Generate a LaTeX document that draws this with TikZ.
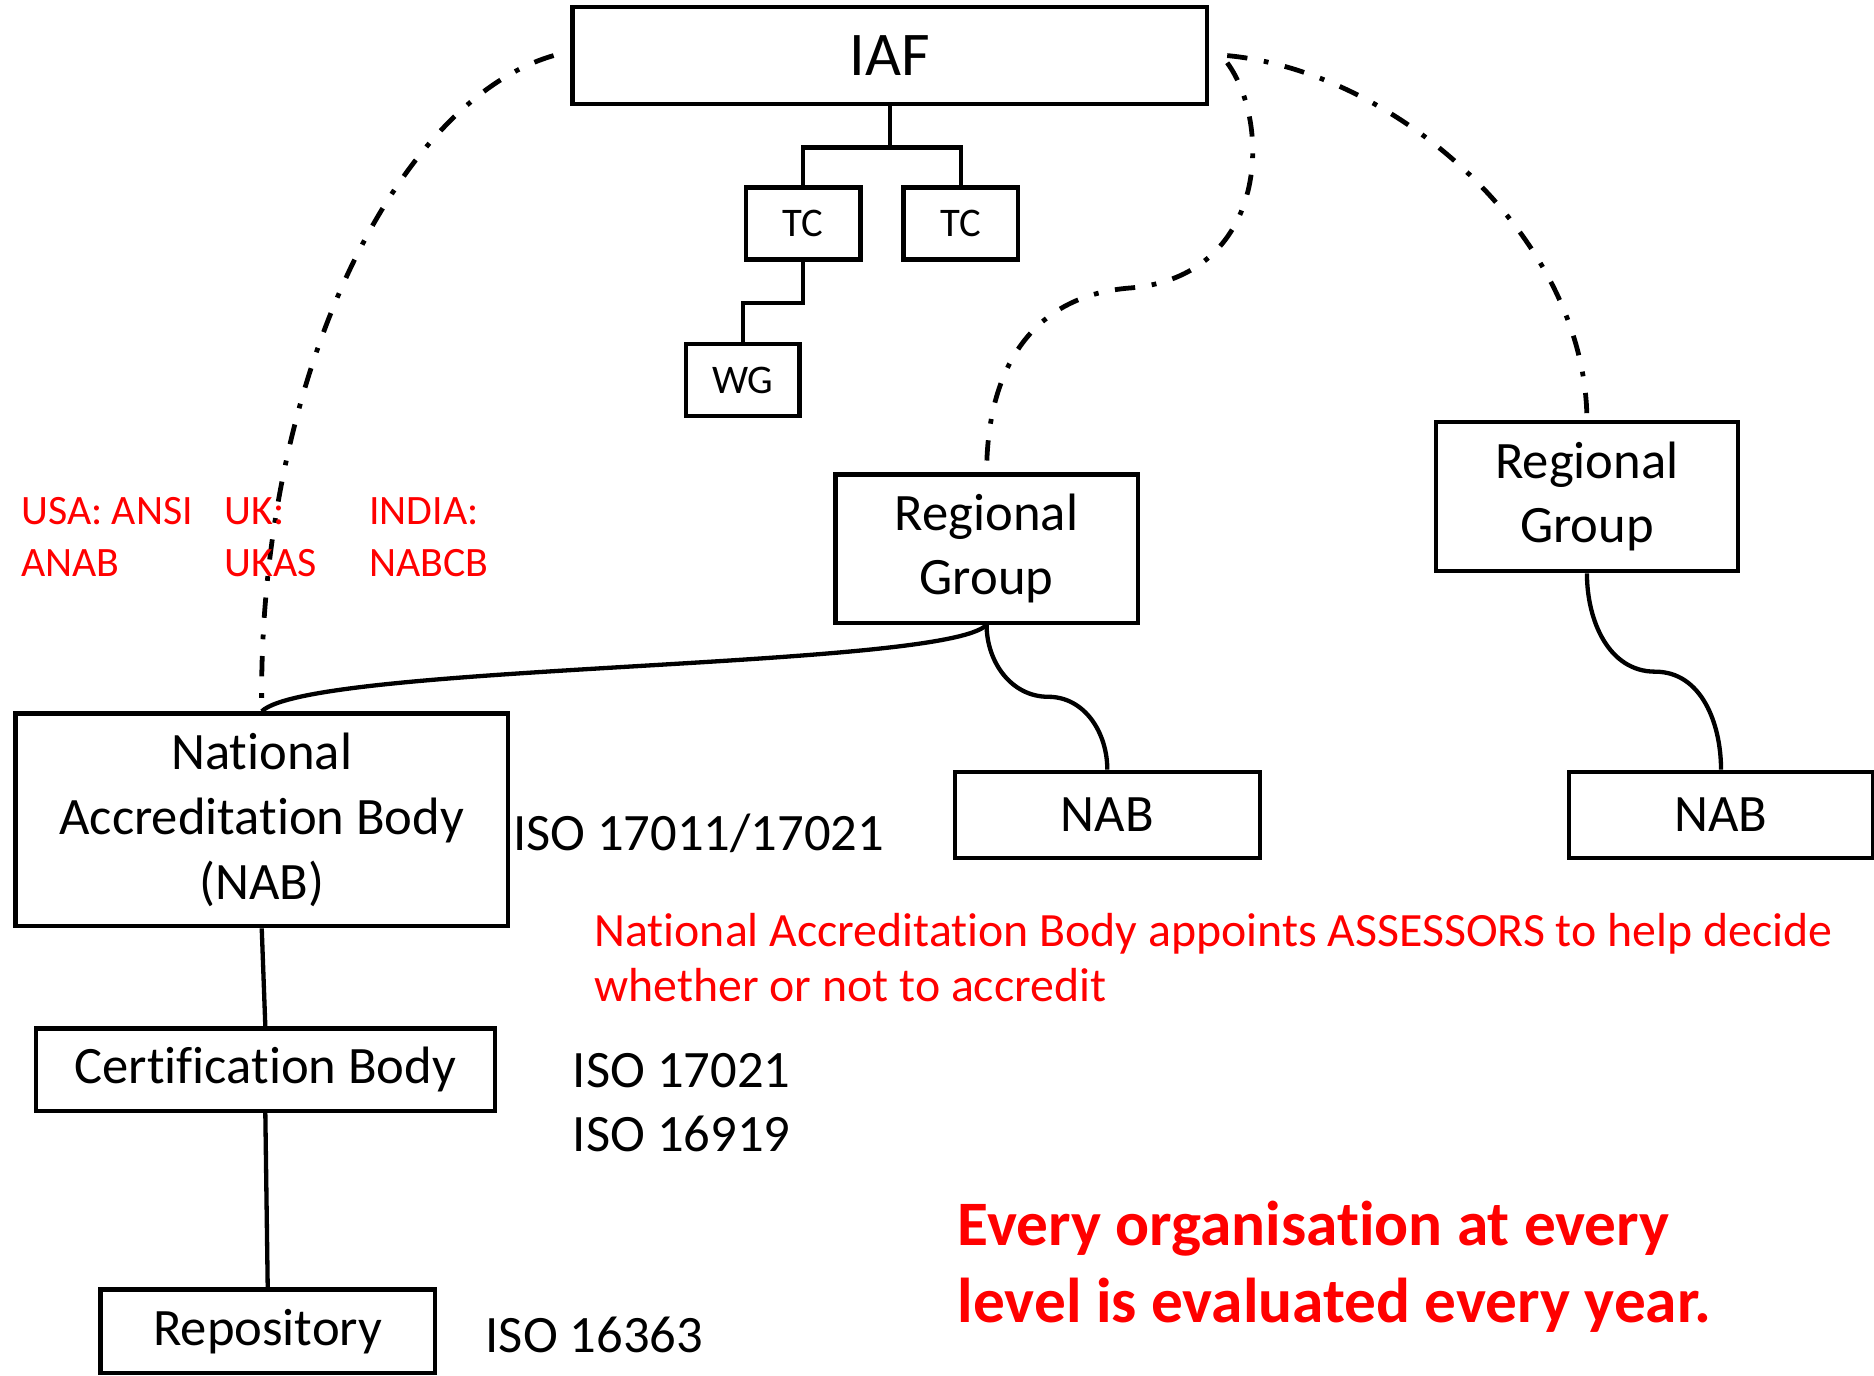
\documentclass[tikz,border=0pt]{standalone}
\usepackage{fontspec}
\setmainfont{Carlito}[Ligatures=CommonOff]

\tikzset{
  box/.style={draw, line width=1.8pt, inner sep=0pt, align=center, font=\fontsize{22}{27}\selectfont},
  dashdot/.style={line width=2pt, dash pattern=on 8.5pt off 7pt on 2pt off 7pt},
  link/.style={line width=1.8pt},
  txt/.style={anchor=base west, inner sep=0pt, align=left, font=\fontsize{22}{27}\selectfont},
  rednote/.style={txt, text=red, font=\fontsize{17.5}{21.5}\selectfont}
}

\begin{document}
\begin{tikzpicture}[x=0.5pt,y=-0.5pt]
  \useasboundingbox (0,0) rectangle (1568,1151);
  % top of the tree
  \node[box, minimum width=265.5pt, minimum height=40.5pt, font=\fontsize{26}{31}\selectfont] (iaf) at (744.5,46.5) {IAF};
  \node[box, minimum width=48pt, minimum height=30pt, font=\fontsize{17}{20}\selectfont] (tc1) at (672,187) {TC};
  \node[box, minimum width=48pt, minimum height=30pt, font=\fontsize{17}{20}\selectfont] (tc2) at (804,187) {TC};
  \node[box, minimum width=47.5pt, minimum height=30pt, font=\fontsize{17}{20}\selectfont] (wg) at (621.5,318) {WG};
  % regional groups and national bodies
  \node[box, minimum width=126.5pt, minimum height=62pt] (rg1) at (825.5,459) {Regional\\Group};
  \node[box, minimum width=126.5pt, minimum height=62.5pt] (rg2) at (1327.8,415.5) {Regional\\Group};
  \node[box, minimum width=206pt, minimum height=89pt] (nab) at (219,686) {National\\Accreditation Body\\(NAB)};
  \node[box, minimum width=127.5pt, minimum height=36pt] (nab2) at (926.5,681.7) {NAB};
  \node[box, minimum width=127pt, minimum height=36pt] (nab3) at (1440,681.7) {NAB};
  \node[box, minimum width=192pt, minimum height=34.5pt] (cb) at (222,895) {Certification Body};
  \node[box, minimum width=140pt, minimum height=35pt] (repo) at (224,1114) {Repository};

  % tree lines
  \draw[link] (iaf.south) -- ++(0,34.5) -| (tc1.north);
  \draw[link] (iaf.south) -- ++(0,34.5) -| (tc2.north);
  \draw[link] (tc1.south) -- ++(0,35) -| (wg.north);

  % membership links
  \coordinate (iafL) at ([xshift=-7pt]iaf.west);
  \coordinate (iafR) at ([xshift=7.5pt]iaf.east);
  \draw[dashdot] (iafL) .. controls (330,85) and (215,320) .. (nab.north);
  \draw[dashdot] ([yshift=-3pt]iafR) .. controls (1065,105) and (1060,232) .. (945,241)
    .. controls (870,247) and (826,300) .. (rg1.north);
  \draw[dashdot] (iafR) .. controls (1170,60) and (1327,200) .. (rg2.north);
  \draw[link] (rg1.south) .. controls (790,560) and (260,555) .. (nab.north);
  \draw[link] (rg1.south) to[out=-90,in=180] (877,583) to[out=0,in=90] (nab2.north);
  \draw[link] (rg2.south) to[out=-90,in=180] (1385,562) to[out=0,in=90] (nab3.north);
  \draw[link] (nab.south) -- (cb.north);
  \draw[link] (cb.south) -- (repo.north);

  % standards and notes
  \node[txt] (iso1) at (429,712) {ISO 17011/17021};
  \node[txt] (iso2) at (479,963.5) {ISO 17021\\ISO 16919};
  \node[txt] (iso3) at (406,1132) {ISO 16363};
  \node[txt, text=red, font=\fontsize{20}{23}\selectfont] (assess) at (497,838) {National Accreditation Body appoints ASSESSORS to help decide\\whether or not to accredit};
  \node[txt, text=red, font=\bfseries\fontsize{26.5}{32}\selectfont] (every) at (801,1106.5) {Every organisation at every\\level is evaluated every year.};
  \node[rednote] (usa) at (17.5,482) {USA: ANSI\\ANAB};
  \node[rednote] (uk) at (187.7,482) {UK:\\UKAS};
  \node[rednote] (india) at (308.6,482) {INDIA:\\NABCB};
\end{tikzpicture}
\end{document}
